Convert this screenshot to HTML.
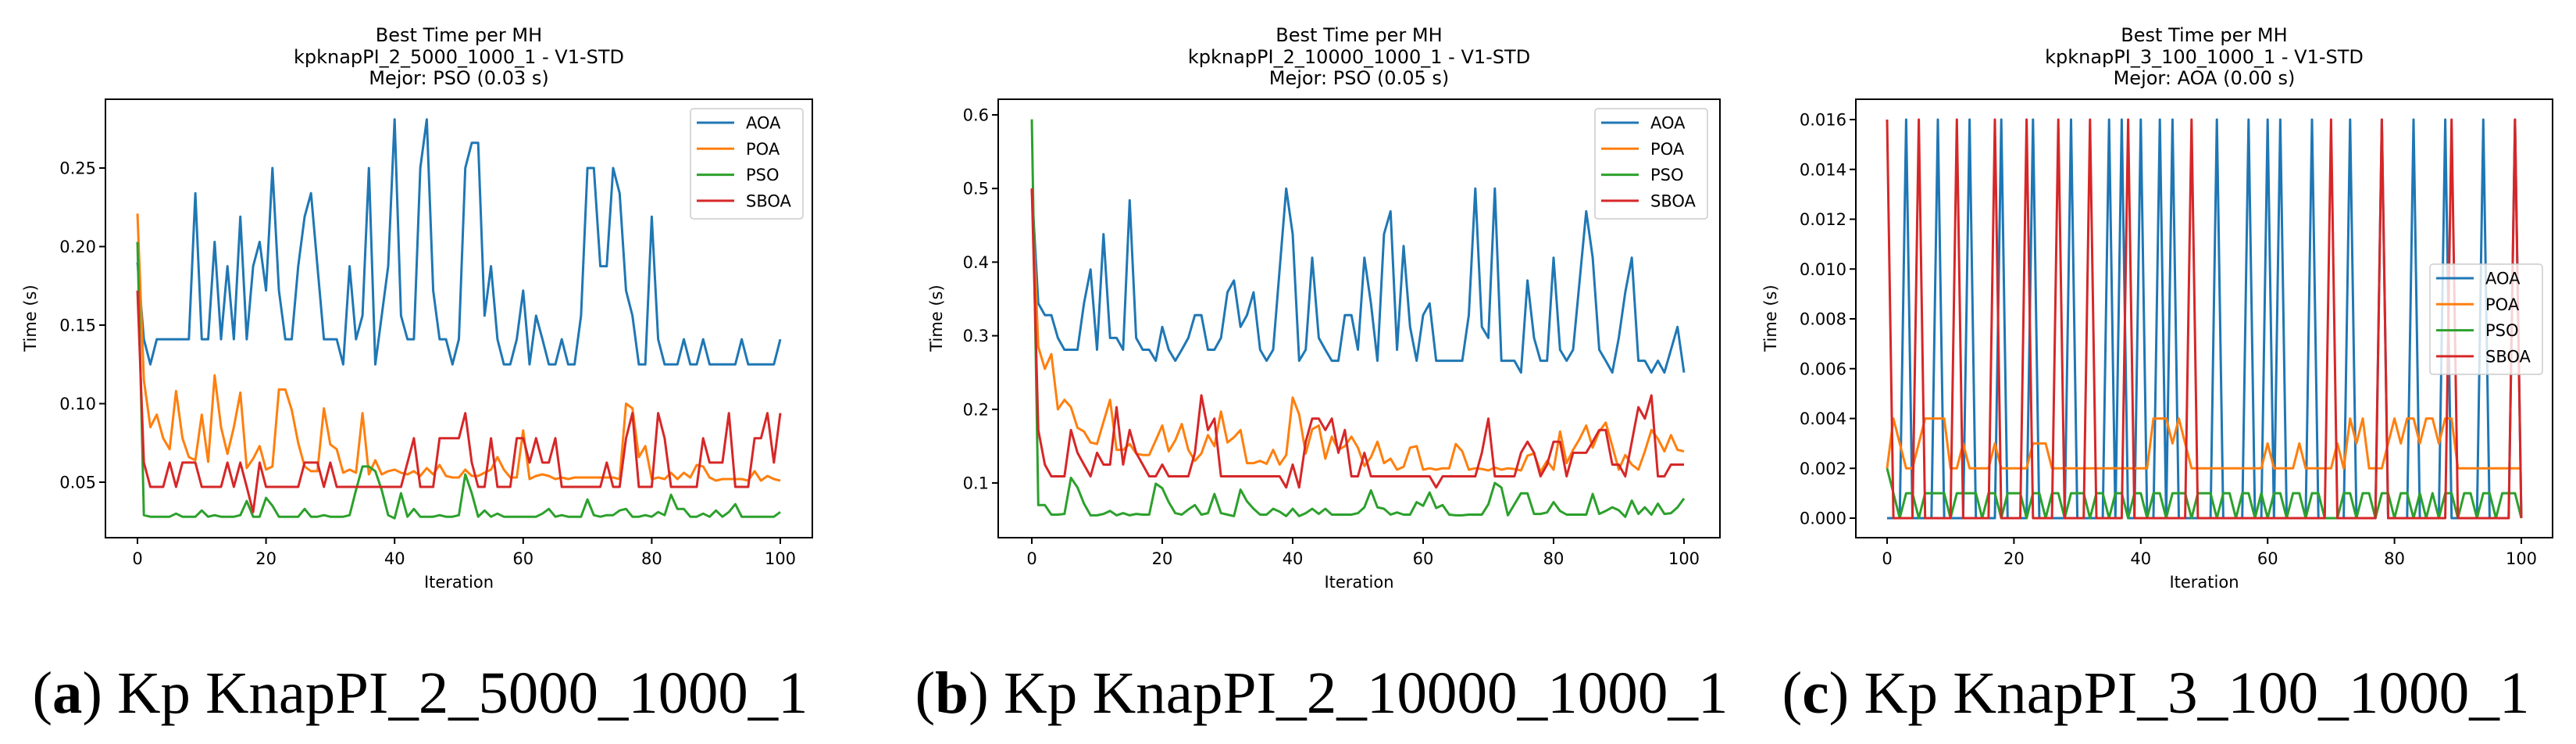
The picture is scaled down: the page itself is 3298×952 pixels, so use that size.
<!DOCTYPE html>
<html><head><meta charset="utf-8"><style>
html,body{margin:0;padding:0;background:#fff;}
svg{display:block;}
text{font-family:"DejaVu Sans","Liberation Sans",sans-serif;fill:#000;}
.cap{font-family:"Liberation Serif",serif;}
</style></head>
<body>
<svg id="fig" width="3298" height="952" viewBox="0 0 3298 952" xmlns="http://www.w3.org/2000/svg"></svg>
<script>
const iterations = Array.from({length:101},(_,i)=>i);
const seriesNames = ["AOA","POA","PSO","SBOA"];
const colors = ["#1f77b4","#ff7f0e","#2ca02c","#d62728"];

// Panel A data
const aAOA=[0.19,0.141,0.125,0.141,0.141,0.141,0.141,0.141,0.141,0.234,0.141,0.141,0.203,0.141,0.1875,0.141,0.219,0.141,0.1875,0.203,0.172,0.25,0.172,0.141,0.141,0.1875,0.219,0.234,0.1875,0.141,0.141,0.141,0.125,0.1875,0.141,0.156,0.25,0.125,0.156,0.1875,0.281,0.156,0.141,0.141,0.25,0.281,0.172,0.141,0.141,0.125,0.141,0.25,0.266,0.266,0.156,0.1875,0.141,0.125,0.125,0.141,0.172,0.125,0.156,0.141,0.125,0.125,0.141,0.125,0.125,0.156,0.25,0.25,0.1875,0.1875,0.25,0.234,0.172,0.156,0.125,0.125,0.219,0.141,0.125,0.125,0.125,0.141,0.125,0.125,0.141,0.125,0.125,0.125,0.125,0.125,0.141,0.125,0.125,0.125,0.125,0.125,0.141];
const aPOA=[0.221,0.115,0.085,0.093,0.078,0.071,0.108,0.078,0.066,0.064,0.093,0.063,0.118,0.085,0.068,0.085,0.107,0.059,0.065,0.073,0.058,0.06,0.109,0.109,0.096,0.075,0.06,0.057,0.057,0.097,0.074,0.071,0.056,0.058,0.056,0.094,0.055,0.064,0.055,0.057,0.058,0.056,0.055,0.057,0.054,0.059,0.055,0.061,0.054,0.053,0.053,0.058,0.054,0.054,0.056,0.058,0.066,0.058,0.053,0.053,0.083,0.052,0.054,0.055,0.054,0.052,0.053,0.052,0.053,0.053,0.053,0.053,0.053,0.053,0.053,0.052,0.1,0.097,0.066,0.073,0.052,0.053,0.052,0.056,0.052,0.056,0.053,0.061,0.06,0.053,0.051,0.052,0.052,0.052,0.052,0.051,0.057,0.051,0.054,0.052,0.051];
const aPSO=[0.203,0.029,0.028,0.028,0.028,0.028,0.03,0.028,0.028,0.028,0.032,0.028,0.029,0.028,0.028,0.028,0.029,0.038,0.028,0.028,0.04,0.035,0.028,0.028,0.028,0.028,0.033,0.028,0.028,0.029,0.028,0.028,0.028,0.029,0.045,0.06,0.06,0.057,0.045,0.029,0.027,0.043,0.028,0.033,0.028,0.028,0.028,0.029,0.028,0.028,0.029,0.055,0.043,0.028,0.032,0.028,0.03,0.028,0.028,0.028,0.028,0.028,0.028,0.03,0.033,0.028,0.029,0.028,0.028,0.028,0.039,0.029,0.028,0.029,0.029,0.032,0.033,0.028,0.028,0.029,0.028,0.031,0.029,0.042,0.033,0.033,0.028,0.028,0.03,0.028,0.032,0.028,0.031,0.036,0.028,0.028,0.028,0.028,0.028,0.028,0.031];
const aSBOA=[0.172,0.0625,0.047,0.047,0.047,0.0625,0.047,0.0625,0.0625,0.0625,0.047,0.047,0.047,0.047,0.0625,0.047,0.0625,0.047,0.031,0.0625,0.047,0.047,0.047,0.047,0.047,0.047,0.0625,0.0625,0.0625,0.047,0.0625,0.047,0.047,0.047,0.047,0.047,0.047,0.047,0.047,0.047,0.047,0.047,0.0625,0.078,0.047,0.047,0.047,0.078,0.078,0.078,0.078,0.094,0.0625,0.047,0.047,0.078,0.047,0.047,0.047,0.078,0.078,0.0625,0.078,0.0625,0.0625,0.078,0.047,0.047,0.047,0.047,0.047,0.047,0.047,0.0625,0.047,0.047,0.078,0.094,0.047,0.047,0.047,0.094,0.078,0.047,0.047,0.047,0.047,0.047,0.078,0.0625,0.0625,0.0625,0.094,0.047,0.047,0.047,0.078,0.078,0.094,0.0625,0.094];
const aYTicks=[0.05,0.10,0.15,0.20,0.25];
const aYLabels=["0.05","0.10","0.15","0.20","0.25"];

// Panel B data
const bAOA=[0.5,0.344,0.328,0.328,0.297,0.281,0.281,0.281,0.344,0.39,0.281,0.438,0.297,0.297,0.281,0.484,0.297,0.281,0.281,0.266,0.312,0.281,0.266,0.281,0.297,0.328,0.328,0.281,0.281,0.297,0.359,0.375,0.312,0.328,0.359,0.281,0.266,0.281,0.39,0.5,0.438,0.266,0.281,0.406,0.297,0.281,0.266,0.266,0.328,0.328,0.281,0.406,0.344,0.266,0.438,0.469,0.281,0.422,0.312,0.266,0.328,0.344,0.266,0.266,0.266,0.266,0.266,0.328,0.5,0.312,0.297,0.5,0.266,0.266,0.266,0.25,0.375,0.297,0.266,0.266,0.406,0.281,0.266,0.281,0.375,0.469,0.406,0.281,0.266,0.25,0.297,0.359,0.406,0.266,0.266,0.25,0.266,0.25,0.281,0.312,0.25];
const bPOA=[0.5,0.285,0.255,0.275,0.2,0.213,0.203,0.175,0.17,0.155,0.153,0.183,0.213,0.145,0.145,0.153,0.14,0.138,0.138,0.158,0.178,0.143,0.158,0.18,0.145,0.13,0.14,0.165,0.15,0.197,0.155,0.162,0.172,0.127,0.127,0.13,0.126,0.145,0.125,0.138,0.216,0.193,0.14,0.173,0.178,0.133,0.163,0.145,0.15,0.163,0.148,0.123,0.135,0.156,0.127,0.133,0.118,0.122,0.148,0.15,0.118,0.12,0.118,0.12,0.12,0.153,0.143,0.118,0.12,0.119,0.117,0.121,0.118,0.12,0.119,0.117,0.137,0.14,0.115,0.13,0.118,0.17,0.127,0.145,0.16,0.178,0.148,0.17,0.182,0.15,0.118,0.138,0.125,0.118,0.143,0.172,0.16,0.143,0.165,0.145,0.143];
const bPSO=[0.594,0.07,0.07,0.057,0.057,0.058,0.107,0.094,0.072,0.056,0.056,0.058,0.062,0.056,0.059,0.056,0.058,0.057,0.057,0.099,0.093,0.074,0.059,0.057,0.064,0.07,0.057,0.059,0.085,0.059,0.057,0.055,0.091,0.075,0.065,0.057,0.057,0.065,0.061,0.055,0.065,0.055,0.059,0.065,0.058,0.065,0.057,0.057,0.057,0.057,0.059,0.067,0.09,0.067,0.065,0.057,0.06,0.057,0.057,0.074,0.069,0.087,0.066,0.07,0.057,0.056,0.056,0.057,0.057,0.057,0.071,0.1,0.094,0.056,0.071,0.086,0.086,0.058,0.058,0.06,0.074,0.062,0.057,0.057,0.057,0.057,0.085,0.058,0.062,0.067,0.063,0.054,0.076,0.058,0.067,0.057,0.072,0.058,0.059,0.067,0.079];
const bSBOA=[0.5,0.172,0.125,0.109,0.109,0.109,0.172,0.141,0.125,0.109,0.141,0.125,0.125,0.203,0.125,0.172,0.141,0.125,0.109,0.109,0.125,0.109,0.109,0.109,0.109,0.141,0.219,0.172,0.1875,0.109,0.109,0.109,0.109,0.109,0.109,0.109,0.109,0.109,0.109,0.094,0.125,0.094,0.156,0.1875,0.1875,0.172,0.1875,0.141,0.172,0.109,0.109,0.141,0.109,0.109,0.109,0.109,0.109,0.109,0.109,0.109,0.109,0.109,0.094,0.109,0.109,0.109,0.109,0.109,0.109,0.141,0.1875,0.109,0.109,0.109,0.109,0.141,0.156,0.141,0.109,0.125,0.156,0.156,0.109,0.141,0.141,0.141,0.156,0.172,0.172,0.125,0.125,0.109,0.156,0.203,0.1875,0.219,0.109,0.109,0.125,0.125,0.125];
const bYTicks=[0.1,0.2,0.3,0.4,0.5,0.6];
const bYLabels=["0.1","0.2","0.3","0.4","0.5","0.6"];

// Panel C data
const cAOASpikes=[3,8,13,18,23,29,35,37,40,43,45,52,57,60,62,67,73,78,83,88,94,99];
const cSBOASpikes=[0,5,11,17,22,27,32,38,48,70,78,89,99];
const cPSODips=[2,5,10,15,18,22,25,28,32,35,38,41,44,48,52,55,58,60,63,66,69,70,71,74,77,80,83,85,87,90,93,96,100];
const cPOA=[0.002,0.004,0.003,0.002,0.002,0.003,0.004,0.004,0.004,0.004,0.002,0.002,0.003,0.002,0.002,0.002,0.002,0.003,0.002,0.002,0.002,0.002,0.002,0.003,0.003,0.003,0.002,0.002,0.002,0.002,0.002,0.002,0.002,0.002,0.002,0.002,0.002,0.002,0.002,0.002,0.002,0.002,0.004,0.004,0.004,0.003,0.004,0.003,0.002,0.002,0.002,0.002,0.002,0.002,0.002,0.002,0.002,0.002,0.002,0.002,0.003,0.002,0.002,0.002,0.002,0.003,0.002,0.002,0.002,0.002,0.002,0.003,0.002,0.004,0.003,0.004,0.002,0.002,0.002,0.003,0.004,0.003,0.004,0.004,0.003,0.004,0.004,0.003,0.004,0.004,0.002,0.002,0.002,0.002,0.002,0.002,0.002,0.002,0.002,0.002,0.002];
const cAOA=iterations.map(i=>cAOASpikes.includes(i)?0.016:0);
const cSBOA=iterations.map(i=>cSBOASpikes.includes(i)?0.016:0);
const cPSO=iterations.map(i=>i===0?0.002:(cPSODips.includes(i)?0:0.001));
const cYTicks=[0,0.002,0.004,0.006,0.008,0.010,0.012,0.014,0.016];
const cYLabels=["0.000","0.002","0.004","0.006","0.008","0.010","0.012","0.014","0.016"];

const xTicks=[0,20,40,60,80,100];
const titles2=["kpknapPI_2_5000_1000_1 - V1-STD","kpknapPI_2_10000_1000_1 - V1-STD","kpknapPI_3_100_1000_1 - V1-STD"];
const titles3=["Mejor: PSO (0.03 s)","Mejor: PSO (0.05 s)","Mejor: AOA (0.00 s)"];

const NS="http://www.w3.org/2000/svg";
const svg=document.getElementById('fig');
function mk(tag,attrs,parent){const e=document.createElementNS(NS,tag);for(const k in attrs)e.setAttribute(k,attrs[k]);(parent||svg).appendChild(e);return e;}

const panels=[
 {key:'a',left:135,right:1040,x0:176,x100:999,yv1:0.05,yp1:617,yv2:0.25,yp2:215,ticks:aYTicks,labels:aYLabels,data:[aAOA,aPOA,aPSO,aSBOA],ylab:46,leg:[884,139],cap:538,capW:993,capTxt:"Kp KnapPI_2_5000_1000_1",letter:"a"},
 {key:'b',left:1278,right:2202,x0:1321,x100:2156,yv1:0.1,yp1:618,yv2:0.6,yp2:147,ticks:bYTicks,labels:bYLabels,data:[bAOA,bPOA,bPSO,bSBOA],ylab:1206,leg:[2042,139],cap:1692,capW:1041,capTxt:"Kp KnapPI_2_10000_1000_1",letter:"b"},
 {key:'c',left:2376,right:3268,x0:2416,x100:3228,yv1:0,yp1:663,yv2:0.016,yp2:153,ticks:cYTicks,labels:cYLabels,data:[cAOA,cPOA,cPSO,cSBOA],ylab:2274,leg:[3111,338],cap:2760,capW:957,capTxt:"Kp KnapPI_3_100_1000_1",letter:"c"}
];
const TOP=127,BOT=688;

panels.forEach((p,pi)=>{
  const g=mk('g',{});
  
  
  const xs=v=>p.x0+(p.x100-p.x0)*v/100;
  const ys=v=>p.yp1+(p.yp2-p.yp1)*(v-p.yv1)/(p.yv2-p.yv1);
  const cx=(p.left+p.right)/2;
  const t1=mk('text',{x:cx,y:53,'text-anchor':'middle','font-size':24},g);t1.textContent="Best Time per MH";
  
  const t2=mk('text',{x:cx,y:81,'text-anchor':'middle','font-size':24},g);t2.textContent=titles2[pi];
  
  const t3=mk('text',{x:cx,y:108,'text-anchor':'middle','font-size':24},g);t3.textContent=titles3[pi];
  
  const clipId='clip'+p.key;
  const cp=mk('clipPath',{id:clipId},g);mk('rect',{x:p.left,y:TOP,width:p.right-p.left,height:BOT-TOP},cp);
  p.data.forEach((arr,si)=>{
    const pts=arr.map((v,i)=>xs(iterations[i]).toFixed(1)+','+ys(v).toFixed(1)).join(' ');
    const pl=mk('polyline',{points:pts,fill:'none',stroke:colors[si],'stroke-width':3,'stroke-linejoin':'round','clip-path':'url(#'+clipId+')'},g);
    
    
  });
  const fr=mk('rect',{x:p.left,y:TOP,width:p.right-p.left,height:BOT-TOP,fill:'none',stroke:'#000','stroke-width':2},g);
  
  xTicks.forEach(t=>{
    const x=xs(t);
    mk('line',{x1:x,y1:BOT,x2:x,y2:BOT+8,stroke:'#000','stroke-width':2},g);
    const tl=mk('text',{x:x,y:722,'text-anchor':'middle','font-size':21},g);tl.textContent=t;
    
  });
  p.ticks.forEach((t,ti)=>{
    const y=ys(t);
    mk('line',{x1:p.left-8,y1:y,x2:p.left,y2:y,stroke:'#000','stroke-width':2},g);
    const tl=mk('text',{x:p.left-12,y:y+7.5,'text-anchor':'end','font-size':21},g);tl.textContent=p.labels[ti];
    
  });
  const xl=mk('text',{x:cx,y:752,'text-anchor':'middle','font-size':21},g);xl.textContent="Iteration";
  
  const yl=mk('text',{x:p.ylab,y:407,'text-anchor':'middle','font-size':21,transform:'rotate(-90 '+p.ylab+' 407)'},g);yl.textContent="Time (s)";
  
  const lg=mk('g',{},g);
  
  const [lx,ly]=p.leg;
  mk('rect',{x:lx,y:ly,width:144,height:141,rx:4,fill:'#fff','fill-opacity':0.8,stroke:'#ccc','stroke-width':1.5},lg);
  seriesNames.forEach((n,si)=>{
    const yy=ly+18+si*33.3;
    const le=mk('g',{},lg);
    
    mk('line',{x1:lx+8,y1:yy,x2:lx+56,y2:yy,stroke:colors[si],'stroke-width':3},le);
    const tx=mk('text',{x:lx+71,y:yy+7.5,'font-size':21},le);tx.textContent=n;
  });
  const cap=mk('text',{x:p.cap,y:912,'text-anchor':'middle','font-size':76,class:'cap',textLength:p.capW,lengthAdjust:'spacingAndGlyphs'},g);
  
  cap.appendChild(document.createTextNode('('));
  const b=mk('tspan',{'font-weight':'bold'},cap);b.textContent=p.letter;
  cap.appendChild(document.createTextNode(') '+p.capTxt));
});
</script>
</body></html>
